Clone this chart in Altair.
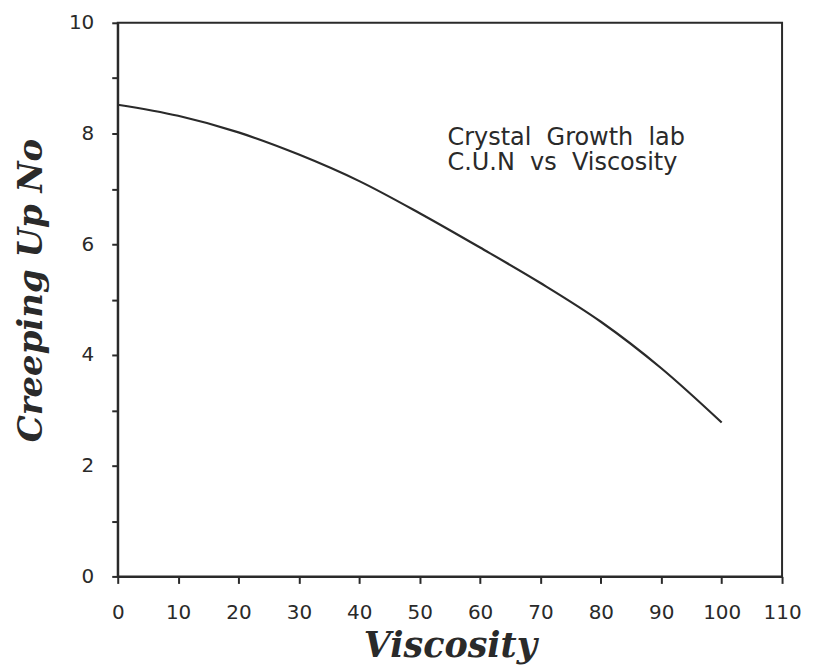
import altair as alt
import pandas as pd

viscosity = [0, 10, 20, 30, 40, 50, 60, 70, 80, 90, 100]
cun = [8.52, 8.32, 8.02, 7.62, 7.14, 6.56, 5.94, 5.3, 4.6, 3.76, 2.78]

note_x = [54.6]
note_y = [7.80]
note_text = ["Crystal\u00a0\u00a0Growth\u00a0\u00a0lab\nC.U.N\u00a0\u00a0vs\u00a0\u00a0Viscosity"]

x_ticks = list(range(0, 111, 10))
y_ticks = list(range(0, 11, 1))

df = pd.DataFrame({"Viscosity": viscosity, "CUN": cun})
notes = pd.DataFrame({"x": note_x, "y": note_y, "t": note_text})

ink = "#2a2a2a"
label_font = "DejaVu Sans"
title_font = "DejaVu Serif"

xs = alt.Scale(domain=[0, 110], nice=False, zero=False)
ys = alt.Scale(domain=[0, 10], nice=False, zero=False)

line = alt.Chart(df).mark_line(color=ink, strokeWidth=2.2, interpolate="monotone").encode(
    x=alt.X("Viscosity:Q", scale=xs,
            axis=alt.Axis(title="Viscosity", values=x_ticks, grid=False,
                          tickSize=7, tickWidth=2, tickColor=ink,
                          domainColor=ink, domainWidth=2,
                          labelFont=label_font, labelFontSize=20, labelColor=ink,
                          labelPadding=19, labelFlush=False,
                          titleFont=title_font, titleFontSize=35, titleFontStyle="italic",
                          titleFontWeight="bold", titleColor=ink,
                          titleY=80, titleBaseline="alphabetic")),
    y=alt.Y("CUN:Q", scale=ys,
            axis=alt.Axis(title="Creeping Up No", values=y_ticks, grid=False,
                          labelExpr="datum.value % 2 == 0 ? datum.label : ''",
                          tickSize=6, tickWidth=2, tickColor=ink,
                          domainColor=ink, domainWidth=2,
                          labelFont=label_font, labelFontSize=20, labelColor=ink,
                          labelPadding=18,
                          titleFont=title_font, titleFontSize=34, titleFontStyle="italic",
                          titleFontWeight="bold", titleColor=ink,
                          titleX=-76, titleY=268, titleBaseline="alphabetic")),
)

text = alt.Chart(notes).mark_text(align="left", baseline="alphabetic", font=label_font,
                                  fontSize=24, color=ink, lineBreak="\n", lineHeight=25).encode(
    x=alt.X("x:Q", scale=xs),
    y=alt.Y("y:Q", scale=ys),
    text="t:N",
)

chart = alt.layer(line, text).properties(
    width=666, height=555,
    background="white",
    autosize=alt.AutoSizeParams(type="none"),
    padding={"left": 110, "top": 14, "right": 24, "bottom": 95},
).configure_view(stroke=ink, strokeWidth=2, strokeOpacity=1)

chart.save("out.html", embed_options={"renderer": "svg", "actions": False})
